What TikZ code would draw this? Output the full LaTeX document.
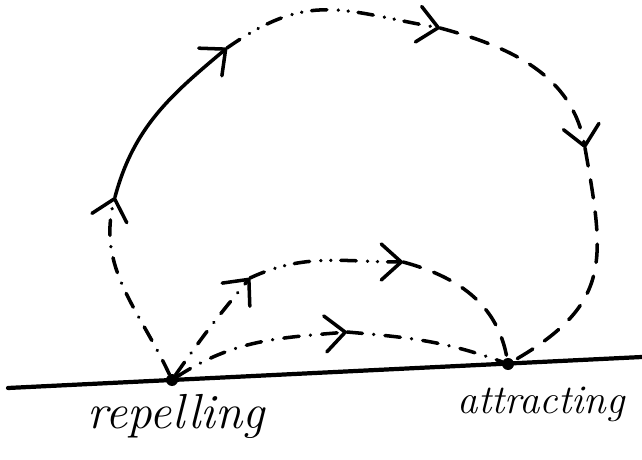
\documentclass[tikz,border=0pt]{standalone}
\usepackage{tikz}
\usetikzlibrary{arrows.meta}

\tikzset{
  traj/.style={line width=2.5pt, line cap=round, -{Straight Barb[length=5mm,width=9mm,round]}},
  trajend/.style={line width=2.5pt, line cap=round},
  dashdots/.style={dash pattern=on 11pt off 8pt on 0.1pt off 8pt},
  dotrun/.style={dash pattern=on 11pt off 8pt on 0.1pt off 7pt on 0.1pt off 7pt},
  longdash/.style={dash pattern=on 13pt off 10pt},
  fixpt/.style={circle, fill, inner sep=0pt, minimum size=3mm},
  lbl/.style={anchor=base, font=\itshape\fontsize{31}{36}\selectfont},
}

\begin{document}
\begin{tikzpicture}[x=0.025cm, y=0.025cm]
  \useasboundingbox (0,0) rectangle (642,459);
  % the line
  \coordinate (left) at (8,71);
  \coordinate (right) at (642,102);
  \draw[line width=3pt, line cap=round] (left) -- (right);
  % fixed points
  \node[fixpt] (rep) at (172,79) {};
  \node[fixpt] (att) at (508,95) {};
  \node[lbl, font=\itshape\fontsize{35}{40}\selectfont] (replabel) at (176,31) {repelling};
  \node[lbl, font=\itshape\fontsize{29}{34}\selectfont] (attlabel) at (541,46) {attracting};
  % big loop
  \coordinate (up1) at (115,262);
  \coordinate (up2) at (227,411);
  \coordinate (top) at (440,431);
  \coordinate (down) at (585,311);
  \draw[traj, dashdots] (rep) to[out=115, in=-105] (up1);
  \draw[traj] (up1) to[out=75, in=-140] (up2);
  \draw[traj, dotrun] (up2) to[out=35, in=170, looseness=1.2] (top);
  \draw[traj, longdash] (top) to[out=-15, in=100] (down);
  \draw[trajend, longdash] (down) to[out=-80, in=30, looseness=1.3] (att);
  % middle arc
  \coordinate (mid1) at (250,181);
  \coordinate (mid2) at (403,197);
  \draw[traj, dashdots] (rep) to[out=55, in=-130] (mid1);
  \draw[traj, dotrun] (mid1) to[out=25, in=180] (mid2);
  \draw[trajend, longdash] (mid2) to[out=-15, in=100] (att);
  % low arc
  \coordinate (low1) at (347,127);
  \draw[traj, dashdots] (rep) to[out=33, in=185] (low1);
  \draw[trajend, dashdots] (low1) to[out=-5, in=160] (att);
\end{tikzpicture}
\end{document}
